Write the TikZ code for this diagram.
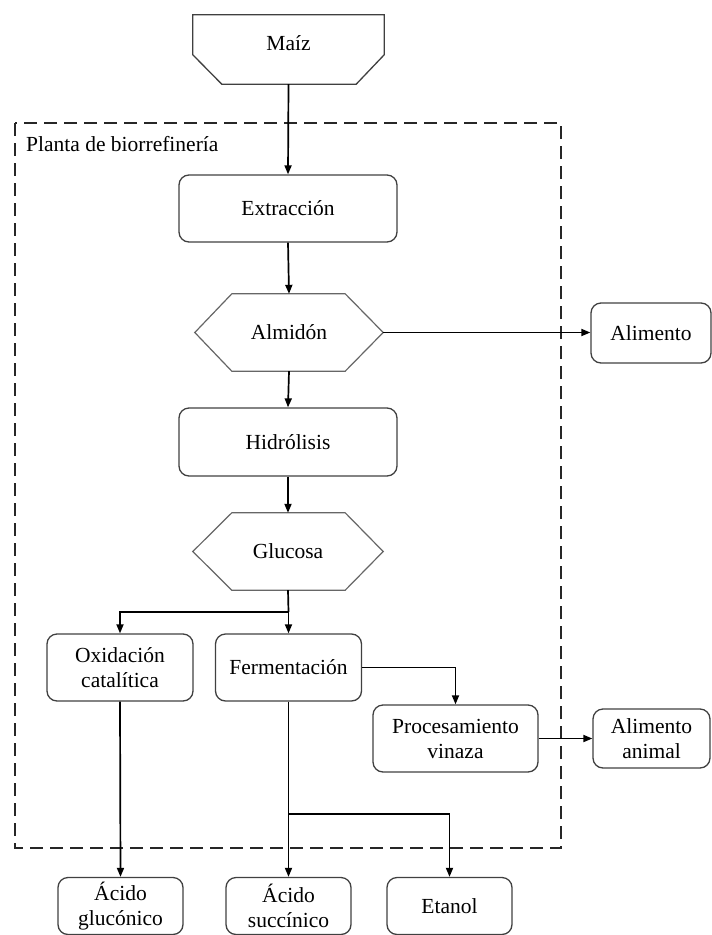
\documentclass[tikz,border=0pt]{standalone}
\usepackage{fontspec}
\setmainfont{Liberation Serif}
\usetikzlibrary{arrows.meta,calc}

\tikzset{
  every node/.style={font=\rmfamily\fontsize{21.5}{25}\selectfont, align=center, inner sep=0pt},
  procbox/.style={draw=black!75, line width=1.3pt, rounded corners=10pt},
  hexframe/.style={draw=black!60, line width=1.2pt},
  flow/.style={draw=black, line width=1.7pt, -{Triangle[length=9pt,width=7pt]}},
  plain/.style={draw=black, line width=1.7pt},
  plantframe/.style={draw=black!85, line width=1.8pt, dash pattern=on 13pt off 7pt}
}

\begin{document}
\begin{tikzpicture}[x=1pt,y=-1pt]
\useasboundingbox (0,0) rectangle (712,935);

% plant boundary
\draw[plantframe] (15,123) rectangle (561,848);
\node[anchor=base west] (plant) at (26,151) {Planta de biorrefinería};

% feedstock
\node[minimum width=191pt, minimum height=69pt] (maiz) at (288.5,49.5) {};
\draw[procbox, rounded corners=0pt]
  (maiz.north west) -- (maiz.north east) -- ++(0,40) -- ([xshift=-28pt]maiz.south east)
  -- ([xshift=29pt]maiz.south west) -- ($(maiz.north west)+(0,40)$) -- cycle;
\node (maiztxt) at ([yshift=6.5pt]maiz.center) {Maíz};

% main process chain
\node[procbox, minimum width=218pt, minimum height=67pt] (extr) at (288,208.5) {Extracción};

\node[minimum width=188pt, minimum height=77pt] (alm) at (289,332.5) {Almidón};
\draw[hexframe] ([xshift=37pt]alm.north west) -- ([xshift=-38pt]alm.north east) -- (alm.east)
  -- ([xshift=-38pt]alm.south east) -- ([xshift=37pt]alm.south west) -- (alm.west) -- cycle;

\node[procbox, minimum width=120pt, minimum height=60pt] (alim) at (651,333) {Alimento};

\node[procbox, minimum width=218pt, minimum height=68pt] (hidr) at (288,442) {Hidrólisis};

\node[minimum width=190pt, minimum height=77pt] (gluc) at (288,551.5) {Glucosa};
\draw[hexframe] ([xshift=39pt]gluc.north west) -- ([xshift=-38pt]gluc.north east) -- (gluc.east)
  -- ([xshift=-38pt]gluc.south east) -- ([xshift=39pt]gluc.south west) -- (gluc.west) -- cycle;

\node[procbox, minimum width=146pt, minimum height=67pt] (oxid) at (120,667.5) {Oxidación\\catalítica};
\node[procbox, minimum width=146pt, minimum height=67pt] (ferm) at (288.5,667.5) {Fermentación};
\node[procbox, minimum width=165pt, minimum height=67pt] (proc) at (455.5,738.5) {Procesamiento\\vinaza};
\node[procbox, minimum width=117pt, minimum height=59pt] (alan) at (651.5,738.5) {Alimento\\animal};

% products
\node[procbox, minimum width=125pt, minimum height=57pt] (acg) at (120.5,906) {Ácido\\glucónico};
\node[procbox, minimum width=125pt, minimum height=57pt] (acs) at (288.5,906) {Ácido\\succínico};
\node[procbox, minimum width=125pt, minimum height=57pt] (etan) at (449.5,906) {Etanol};

% branch points
\coordinate (gsplit) at (288.5,612);
\coordinate (fsplit) at (288.5,814);

% connectors
\draw[flow] (maiz.south) -- (extr.north);
\draw[flow] (extr.south) -- (alm.north);
\draw[flow] (alm.east) -- (alm.east -| alim.west);
\draw[flow] (alm.south) -- (hidr.north);
\draw[flow] (hidr.south) -- (gluc.north);
\draw[plain] (gluc.south) -- (gsplit);
\draw[flow] (gsplit) -| (oxid.north);
\draw[flow] (gsplit) -- (ferm.north);
\draw[flow] (ferm.east) -| (proc.north);
\draw[flow] (proc.east) -- (proc.east -| alan.west);
\draw[flow] (oxid.south) -- (acg.north);
\draw[flow] (ferm.south) -- (acs.north);
\draw[flow] (fsplit) -| (etan.north);
\end{tikzpicture}
\end{document}
